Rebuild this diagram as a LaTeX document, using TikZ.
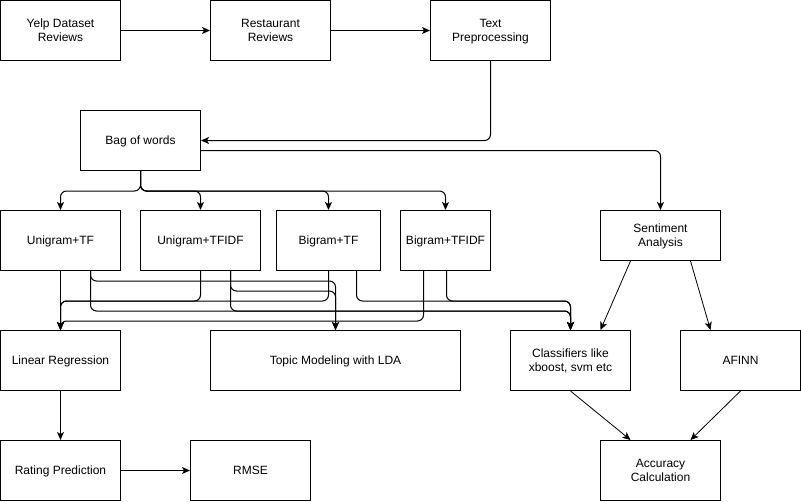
\documentclass[tikz,border=0pt]{standalone}
\usepackage{fontspec}
\setmainfont{Liberation Sans}
\usetikzlibrary{arrows.meta}
\begin{document}
\begin{tikzpicture}[x=1pt,y=-1pt,
  box/.style={draw=black,line width=1pt,rectangle,inner sep=0pt,align=center,
    font=\fontsize{12}{14}\selectfont,text depth=0pt,minimum height=60pt,minimum width=120pt},
  conn/.style={draw=black,line width=1pt,rounded corners=6pt,
    -{Stealth[length=8pt,width=7pt,inset=2pt]}},
  straight/.style={draw=black,line width=0.8pt,
    -{Stealth[length=8pt,width=7pt,inset=2pt]}}]
\useasboundingbox (-0.5,-0.5) rectangle (800.5,500.5);
\node[box] (yelp) at (60,30) {Yelp Dataset\\Reviews};
\node[box] (rest) at (270,30) {Restaurant\\Reviews};
\node[box] (text) at (490,30) {Text\\Preprocessing};
\node[box] (bag) at (140,140) {Bag of words};
\node[box] (unitf) at (60,240) {Unigram+TF};
\node[box] (unitfidf) at (200,240) {Unigram+TFIDF};
\node[box,minimum width=104pt] (bitf) at (328,240) {Bigram+TF};
\node[box,minimum width=90pt] (bitfidf) at (445,240) {Bigram+TFIDF};
\node[box,minimum height=50pt] (sent) at (660,235) {Sentiment\\Analysis};
\node[box] (linreg) at (60,360) {Linear Regression};
\node[box,minimum width=250pt] (topic) at (335,360) {Topic Modeling with LDA};
\node[box] (class) at (570,360) {Classifiers like\\xboost, svm etc};
\node[box] (afinn) at (740,360) {AFINN};
\node[box] (rating) at (60,470) {Rating Prediction};
\node[box] (rmse) at (250,470) {RMSE};
\node[box] (acc) at (660,470) {Accuracy\\Calculation};

\draw[conn] (yelp.east) -- (rest.west);
\draw[conn] (rest.east) -- (text.west);
\draw[conn] (text.south) |- (bag.east);
\draw[conn] ([yshift=-10pt]bag.east) -| (sent.north);
\draw[conn] (bag.south) -- ++(0,20) -| (unitf.north);
\draw[conn] (bag.south) -- ++(0,20) -| (unitfidf.north);
\draw[conn] (bag.south) -- ++(0,20) -| (bitf.north);
\draw[conn] (bag.south) -- ++(0,20) -| (bitfidf.north);

\draw[conn] (unitf.south) -- (linreg.north);
\draw[conn] ([xshift=30pt]unitf.south) -- ++(0,10) -| (topic.north);
\draw[conn] ([xshift=30pt]unitf.south) -- ++(0,40) -| (class.north);
\draw[conn] (unitfidf.south) -- ++(0,30) -| (linreg.north);
\draw[conn] ([xshift=30pt]unitfidf.south) -- ++(0,20) -| (topic.north);
\draw[conn] ([xshift=30pt]unitfidf.south) -- ++(0,40) -| (class.north);
\draw[conn] (bitf.south) -- ++(0,30) -| (linreg.north);
\draw[conn] ([xshift=28pt]bitf.south) -- ++(0,30) -| (class.north);
\draw[conn] ([xshift=-22pt]bitfidf.south) -- ++(0,50) -| (linreg.north);
\draw[conn] ([xshift=1pt]bitfidf.south) -- ++(0,30) -| (class.north);

\draw[conn] (linreg.south) -- (rating.north);
\draw[conn] (rating.east) -- (rmse.west);
\draw[straight] ([xshift=-30pt]sent.south) -- ([xshift=30pt]class.north);
\draw[straight] ([xshift=30pt]sent.south) -- ([xshift=-30pt]afinn.north);
\draw[straight] (class.south) -- ([xshift=-30pt]acc.north);
\draw[straight] (afinn.south) -- ([xshift=30pt]acc.north);
\end{tikzpicture}
\end{document}
